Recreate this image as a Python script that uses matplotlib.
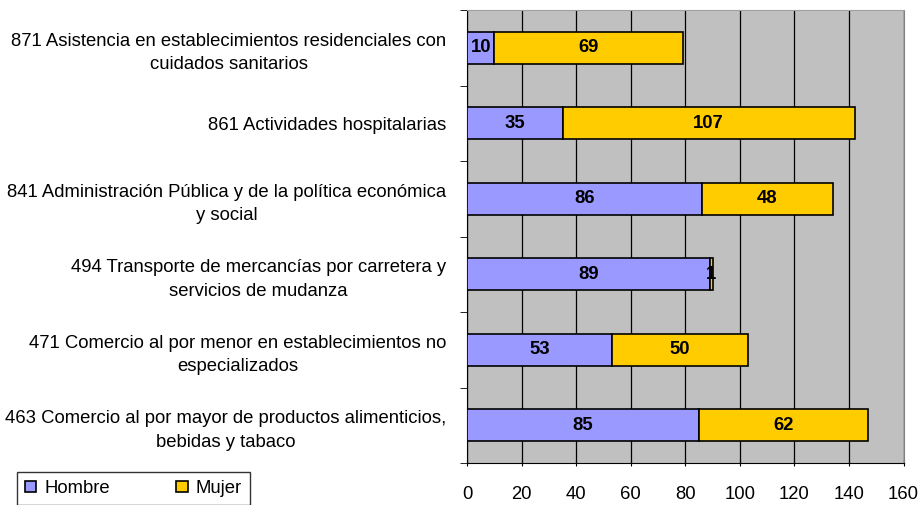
import matplotlib.pyplot as plt
import numpy as np

plt.rcParams['font.family'] = ['Liberation Sans', 'DejaVu Sans']

# ------------------------------------------------------------------------------------------------------------------
categories = [
    "463 Comercio al por mayor de productos alimenticios,\nbebidas y tabaco",
    "471 Comercio al por menor en establecimientos no\nespecializados",
    "494 Transporte de mercancías por carretera y\nservicios de mudanza",
    "841 Administración Pública y de la política económica\ny social",
    "861 Actividades hospitalarias",
    "871 Asistencia en establecimientos residenciales con\ncuidados sanitarios",
]
hombre = [85, 53, 89, 86, 35, 10]
mujer = [62, 50, 1, 48, 107, 69]
x_ticks = [0, 20, 40, 60, 80, 100, 120, 140, 160]

fs = 13.3

# ------------------------------------------------------------------------------------------------------------------
fig = plt.figure(figsize=(9.23, 5.05), dpi=100)
ax = fig.add_axes([0.506, 0.083, 0.473, 0.897])
ax.set_facecolor("#C0C0C0")

y = np.arange(len(categories))
h = 0.42
b1 = ax.barh(y, hombre, height=h, color="#9999FF", edgecolor="black", linewidth=1.2, label="Hombre", zorder=3)
b2 = ax.barh(y, mujer, left=hombre, height=h, color="#FFCC00", edgecolor="black", linewidth=1.2, label="Mujer", zorder=3)

for i in range(len(categories)):
    ax.text(hombre[i] / 2, y[i], str(hombre[i]), ha="center", va="center",
            fontsize=fs, fontweight="bold", zorder=4)
    ax.text(hombre[i] + mujer[i] / 2, y[i], str(mujer[i]), ha="center", va="center",
            fontsize=fs, fontweight="bold", zorder=4)

ax.set_xlim(0, 160)
ax.set_ylim(-0.5, len(categories) - 0.5)
ax.set_xticks(x_ticks)
ax.xaxis.grid(True, color="black", linewidth=0.9, zorder=1)
ax.set_axisbelow(True)
ax.tick_params(axis="x", labelsize=fs, length=5, direction="inout", pad=14)

ax.set_yticks(y)
ax.set_yticklabels(categories, fontsize=fs)
for lab in ax.get_yticklabels():
    lab.set_multialignment("center")
    lab.set_linespacing(1.5)
ax.tick_params(axis="y", which="major", length=0, pad=15)
ax.set_yticks(np.arange(-0.5, len(categories), 1), minor=True)
ax.tick_params(axis="y", which="minor", length=5, direction="out")

ax.spines["top"].set_color("#A0A0A0")
ax.spines["right"].set_color("#808080")
ax.spines["left"].set_color("black")
ax.spines["bottom"].set_color("black")

leg = fig.legend(handles=[b1, b2], loc="upper left", bbox_to_anchor=(0.018, 0.066),
                 ncol=2, fontsize=fs, frameon=True, fancybox=False, edgecolor="black",
                 handlelength=0.6, handleheight=0.6, handletextpad=0.45, columnspacing=3.6,
                 borderpad=0.45, borderaxespad=0)
leg.get_frame().set_linewidth(1.0)

# widen the legend box on the right like the reference
fig.canvas.draw()
bb = leg.get_frame().get_bbox()
leg.get_frame().set_width(bb.width + 16)

plt.savefig("out.png", dpi=100)
